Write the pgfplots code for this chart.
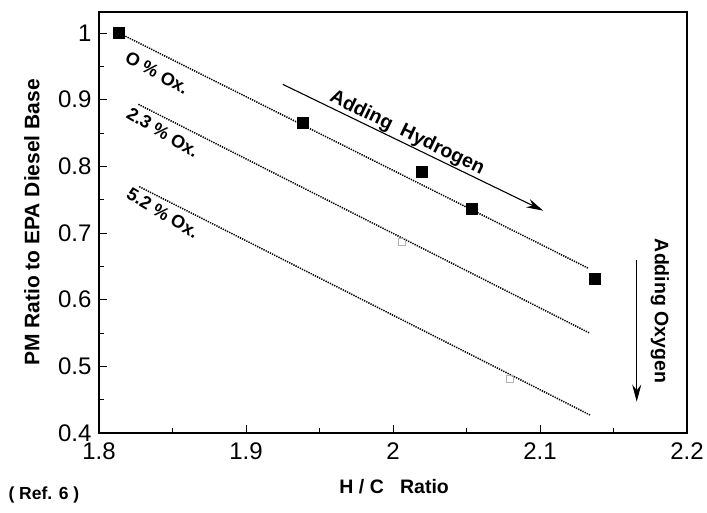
\documentclass[border=0pt]{standalone}
\usepackage{fontspec}
\setmainfont{Liberation Sans}
\usepackage{pgfplots}
\pgfplotsset{compat=1.18}
\usetikzlibrary{arrows.meta}
\begin{document}
\begin{tikzpicture}
\useasboundingbox (-99pt,-80pt) rectangle (608pt,433pt);
\begin{axis}[
  scale only axis, width=588pt, height=421pt,
  xmin=1.8, xmax=2.2, ymin=0.4, ymax=1.0315,
  xtick={1.8,1.9,2,2.1,2.2}, ytick={0.4,0.5,0.6,0.7,0.8,0.9,1},
  minor tick num=1,
  tick align=inside, tick pos=left,
  major tick length=8pt, minor tick length=5pt,
  axis line style={line width=1.2pt},
  every tick/.style={line width=0.6pt, black},
  /pgf/number format/assume math mode=true,
  /pgf/number format/fixed,
  ticklabel style={font=\fontsize{24}{24}\selectfont},
  xticklabel style={yshift=-6pt},
  yticklabel style={xshift=-4pt},
  xlabel={H / C\ \ \ Ratio}, ylabel={PM Ratio to EPA Diesel Base},
  xlabel style={font=\bfseries\fontsize{19.5}{19.5}\selectfont, at={(axis description cs:0.502,-0.128)}, anchor=center},
  ylabel style={font=\bfseries\fontsize{21}{21}\selectfont, at={(axis description cs:-0.114,0.5)}, anchor=center},
  clip=false,
]
% fitted dotted lines
\addplot[black, dash pattern=on 1.3pt off 1.1pt, line width=1.5pt] coordinates {(1.8136,1.0) (2.133,0.647)};
\addplot[black, dash pattern=on 1.3pt off 1.1pt, line width=1.5pt] coordinates {(1.8268,0.893) (2.134,0.5496)};
\addplot[black, dash pattern=on 1.3pt off 1.1pt, line width=1.5pt] coordinates {(1.8274,0.7695) (2.134,0.427)};
% measured points, 0 % oxygen
\addplot[only marks, mark=square*, mark size=5.5pt, black] coordinates {
  (1.8136,1.0) (1.9386,0.866) (2.0195,0.792) (2.0535,0.737) (2.1374,0.631)};
% faint open squares
\addplot[only marks, mark=square, mark size=3.5pt, gray!60, line width=0.5pt] coordinates {
  (2.006,0.687) (2.0796,0.482)};
% labels
\node[rotate=-29, font=\bfseries\fontsize{18}{18}\selectfont] at (axis cs:1.8395,0.94) {O \% Ox.};
\node[rotate=-31, font=\bfseries\fontsize{18}{18}\selectfont] at (axis cs:1.8435,0.851) {2.3 \% Ox.};
\node[rotate=-31, font=\bfseries\fontsize{18}{18}\selectfont] at (axis cs:1.8435,0.73) {5.2 \% Ox.};
% adding hydrogen arrow
\draw[-{Stealth[length=17pt,width=9pt]}, line width=1.1pt] (axis cs:1.925,0.923) -- (axis cs:2.1022,0.7335)
  node[pos=0.46, sloped, above, inner sep=0.5pt, font=\bfseries\fontsize{19.5}{19.5}\selectfont] {Adding\ \ Hydrogen};
% adding oxygen arrow
\draw[-{Stealth[length=17pt,width=9pt]}, line width=1.1pt] (axis cs:2.1658,0.6595) -- (axis cs:2.1658,0.447);
\node[rotate=-90, font=\bfseries\fontsize{19.5}{19.5}\selectfont] at (axis cs:2.1816,0.583) {Adding Oxygen};
\end{axis}
\node[anchor=west, font=\bfseries\fontsize{17.5}{17.5}\selectfont] at (-94pt,-62pt) {( Ref. 6 )};
\end{tikzpicture}
\end{document}
